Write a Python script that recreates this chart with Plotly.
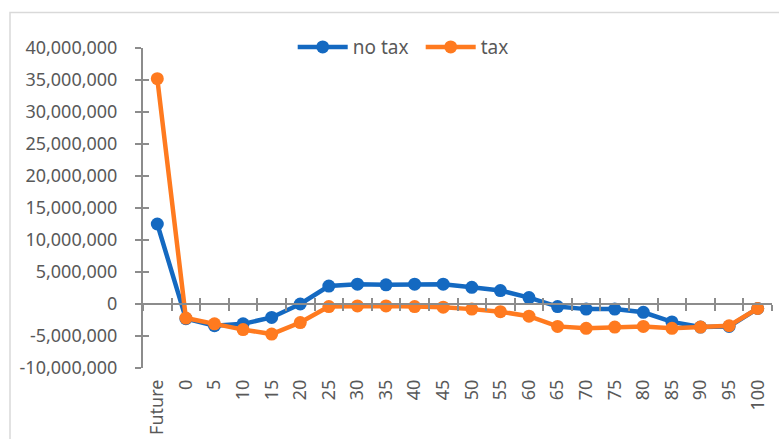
import plotly.graph_objects as go

# Categories along the horizontal axis
categories = ["Future", "0", "5", "10", "15", "20", "25", "30", "35", "40", "45",
              "50", "55", "60", "65", "70", "75", "80", "85", "90", "95", "100"]

# Series values
no_tax = [12_500_000, -2_300_000, -3_400_000, -3_100_000, -2_100_000, 0,
          2_800_000, 3_100_000, 3_000_000, 3_100_000, 3_100_000, 2_600_000,
          2_100_000, 1_000_000, -400_000, -800_000, -800_000, -1_300_000,
          -2_800_000, -3_600_000, -3_500_000, -700_000]
tax = [35_200_000, -2_200_000, -3_100_000, -4_000_000, -4_700_000, -2_900_000,
       -400_000, -300_000, -300_000, -400_000, -500_000, -800_000,
       -1_200_000, -1_900_000, -3_500_000, -3_800_000, -3_600_000, -3_500_000,
       -3_800_000, -3_600_000, -3_400_000, -700_000]

# Value axis ticks
y_ticks = [-10_000_000, -5_000_000, 0, 5_000_000, 10_000_000, 15_000_000,
           20_000_000, 25_000_000, 30_000_000, 35_000_000, 40_000_000]
y_tick_labels = ["-10,000,000", "-5,000,000", "0", "5,000,000", "10,000,000",
                 "15,000,000", "20,000,000", "25,000,000", "30,000,000",
                 "35,000,000", "40,000,000"]

BLUE = "#1469C1"
ORANGE = "#FF7A1F"
AXIS = "#8C8C8C"
TEXT = "#595959"
FONT = "Noto Sans"

y_min, y_max = -10_000_000, 40_000_000
n = len(categories)
zero_pos = (0 - y_min) / (y_max - y_min)
boundaries = [i - 0.5 for i in range(n + 1)]

fig = go.Figure()
fig.add_trace(go.Scatter(x=categories, y=no_tax, name="no tax", mode="lines+markers",
                         line=dict(color=BLUE, width=4.5), marker=dict(size=13, color=BLUE)))
fig.add_trace(go.Scatter(x=categories, y=tax, name="tax", mode="lines+markers",
                         line=dict(color=ORANGE, width=4.5), marker=dict(size=13, color=ORANGE)))

axis_common = dict(showgrid=False, zeroline=False, automargin=False)

fig.update_layout(
    width=779, height=439,
    margin=dict(l=143, r=7, t=48, b=71),
    paper_bgcolor="white", plot_bgcolor="white",
    font=dict(family=FONT, color=TEXT, size=18),
    showlegend=True,
    legend=dict(orientation="h", x=0.238, xanchor="left", y=1.003, yanchor="middle",
                font=dict(size=19, color=TEXT), itemwidth=50, entrywidth=63,
                bgcolor="rgba(0,0,0,0)"),
    # category labels sit at the bottom of the plot
    xaxis=dict(type="category", range=[-0.5, n - 0.5], showline=False, ticks="",
               tickangle=-90, tickfont=dict(size=18, color=TEXT),
               ticklabelstandoff=7, **axis_common),
    # horizontal axis line drawn through zero, with crossing tick marks
    xaxis2=dict(overlaying="x", anchor="free", position=zero_pos, range=[-0.5, n - 0.5],
                showline=True, linecolor=AXIS, linewidth=2, ticks="outside", ticklen=6,
                tickwidth=2, tickcolor=AXIS, tickvals=boundaries, showticklabels=False,
                **axis_common),
    xaxis3=dict(overlaying="x", anchor="free", position=zero_pos, range=[-0.5, n - 0.5],
                showline=False, ticks="inside", ticklen=6, tickwidth=2, tickcolor=AXIS,
                tickvals=boundaries, showticklabels=False, **axis_common),
    yaxis=dict(range=[y_min, y_max], tickvals=y_ticks, ticktext=y_tick_labels,
               showline=True, linecolor=AXIS, linewidth=2, ticks="outside", ticklen=6,
               tickwidth=2, tickcolor=AXIS, tickfont=dict(size=18, color=TEXT),
               ticklabelstandoff=14, **axis_common),
    yaxis2=dict(overlaying="y", range=[y_min, y_max], tickvals=y_ticks, showline=False,
                ticks="inside", ticklen=6, tickwidth=2, tickcolor=AXIS,
                showticklabels=False, side="left", **axis_common),
)

# invisible traces that activate the overlay axes
fig.add_trace(go.Scatter(x=[0], y=[0], xaxis="x2", yaxis="y", mode="markers",
                         marker=dict(opacity=0), showlegend=False, hoverinfo="skip"))
fig.add_trace(go.Scatter(x=[0], y=[0], xaxis="x3", yaxis="y2", mode="markers",
                         marker=dict(opacity=0), showlegend=False, hoverinfo="skip"))

# light frame around the chart area
plot_w = 779 - 143 - 7
plot_h = 439 - 48 - 71
fig.add_shape(type="rect", xref="paper", yref="paper",
              x0=(10 - 143) / plot_w, x1=(800 - 143) / plot_w,
              y0=(368 - 460) / plot_h, y1=(368 - 12.5) / plot_h,
              line=dict(color="#D9D9D9", width=1.5), fillcolor="rgba(0,0,0,0)", layer="below")

fig.write_html("out.html")
